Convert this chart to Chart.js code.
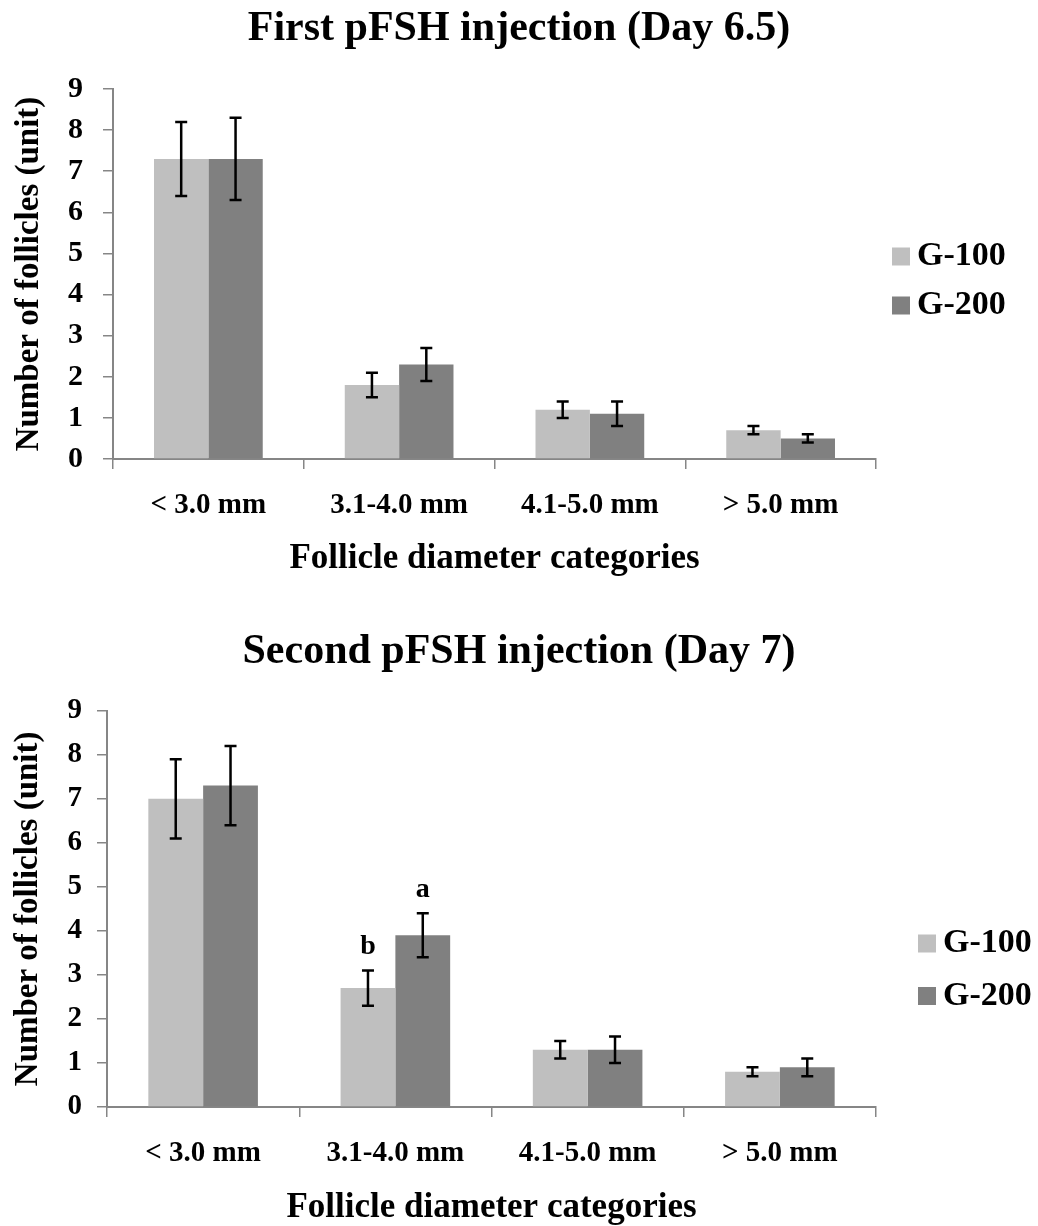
<!DOCTYPE html>
<html>
<head>
<meta charset="utf-8">
<script src="https://cdn.jsdelivr.net/npm/chart.js@4.4.1/dist/chart.umd.min.js"></script>
<style>
  html, body { margin: 0; padding: 0; background: #fff; overflow: hidden; }
  #wrap { position: relative; width: 1038px; height: 1226px; }
  canvas { position: absolute; left: 0; }
</style>
</head>
<body>
<div id="wrap">
  <canvas id="chartFirst" width="1038" height="600" style="top:0"></canvas>
  <canvas id="chartSecond" width="1038" height="626" style="top:600px"></canvas>
</div>
<script>
const categories = ["< 3.0 mm", "3.1-4.0 mm", "4.1-5.0 mm", "> 5.0 mm"];
const groups = ["G-100", "G-200"];
const yMax = 9;

// first injection (day 6.5)
const firstG100 = [7.3, 1.8, 1.2, 0.7];
const firstG200 = [7.3, 2.3, 1.1, 0.5];
const firstErrG100 = [0.9, 0.3, 0.2, 0.1];
const firstErrG200 = [1.0, 0.4, 0.3, 0.1];

// second injection (day 7)
const secondG100 = [7.0, 2.7, 1.3, 0.8];
const secondG200 = [7.3, 3.9, 1.3, 0.9];
const secondErrG100 = [0.9, 0.4, 0.2, 0.1];
const secondErrG200 = [0.9, 0.5, 0.3, 0.2];
const secondLetterG100 = ["", "b", "", ""];
const secondLetterG200 = ["", "a", "", ""];

const serif = "'Liberation Serif', 'Times New Roman', serif";
const axisGrey = "#868686";
const colors = ["#bfbfbf", "#808080"];

Chart.defaults.font.family = serif;
Chart.defaults.font.weight = "bold";
Chart.defaults.color = "#000";

// error bars + significance letters
const errorBars = {
  id: "errorBars",
  afterDatasetsDraw(chart) {
    const ctx = chart.ctx;
    const y = chart.scales.y;
    ctx.save();
    ctx.strokeStyle = "#000";
    ctx.lineWidth = 2.5;
    chart.data.datasets.forEach((ds, i) => {
      chart.getDatasetMeta(i).data.forEach((bar, j) => {
        const v = ds.data[j], e = ds.errors[j];
        const top = y.getPixelForValue(v + e);
        const bot = y.getPixelForValue(v - e);
        ctx.beginPath();
        ctx.moveTo(bar.x, top); ctx.lineTo(bar.x, bot);
        ctx.moveTo(bar.x - 6, top); ctx.lineTo(bar.x + 6, top);
        ctx.moveTo(bar.x - 6, bot); ctx.lineTo(bar.x + 6, bot);
        ctx.stroke();
        if (ds.letters && ds.letters[j]) {
          ctx.fillStyle = "#000";
          ctx.font = "bold 28px " + serif;
          ctx.textAlign = "center";
          ctx.textBaseline = "alphabetic";
          ctx.fillText(ds.letters[j], bar.x, top - 16);
        }
      });
    });
    ctx.restore();
  }
};

// title centred on the whole canvas (the plot itself sits left of the legend)
const pageTitle = {
  id: "pageTitle",
  afterDraw(chart, args, opts) {
    const ctx = chart.ctx;
    ctx.save();
    ctx.font = "bold 42px " + serif;
    ctx.fillStyle = "#000";
    ctx.textAlign = "center";
    ctx.textBaseline = "middle";
    ctx.fillText(opts.text, chart.width / 2, opts.y);
    ctx.restore();
  }
};

// legend on the right, like the original
const sideLegend = {
  id: "sideLegend",
  afterDraw(chart, args, opts) {
    const ctx = chart.ctx;
    const x = chart.chartArea.right + opts.dx;
    ctx.save();
    ctx.font = "bold 34px " + serif;
    ctx.textBaseline = "middle";
    ctx.textAlign = "left";
    chart.data.datasets.forEach((ds, i) => {
      const cy = opts.y + i * opts.gap;
      ctx.fillStyle = ds.backgroundColor;
      ctx.fillRect(x, cy - 9, 18, 18);
      ctx.fillStyle = "#000";
      ctx.fillText(ds.label, x + 25, cy);
    });
    ctx.restore();
  }
};

function makeChart(id, o) {
  return new Chart(document.getElementById(id), {
    type: "bar",
    data: {
      labels: categories,
      datasets: [
        { label: groups[0], data: o.g100, errors: o.err100, letters: o.let100, backgroundColor: colors[0] },
        { label: groups[1], data: o.g200, errors: o.err200, letters: o.let200, backgroundColor: colors[1] }
      ]
    },
    options: {
      responsive: false,
      animation: false,
      categoryPercentage: 0.57,
      barPercentage: 1.0,
      layout: { padding: { left: 0, right: 1038 - 876, top: o.plotTop, bottom: 0 } },
      plugins: {
        legend: { display: false },
        tooltip: { enabled: false },
        title: { display: false },
        pageTitle: { text: o.title, y: o.titleY },
        sideLegend: o.legend
      },
      scales: {
        x: {
          grid: { display: true, drawOnChartArea: false, drawTicks: true, tickLength: 10, offset: true, color: axisGrey, lineWidth: 1.5 },
          border: { display: true, color: axisGrey, width: 2 },
          ticks: { font: { size: 29, weight: "bold" }, color: "#000", padding: 19, maxRotation: 0 },
          title: {
            display: true,
            text: "Follicle diameter categories",
            font: { size: 35, weight: "bold", lineHeight: 1 },
            color: "#000",
            padding: { top: 0, bottom: o.xTitleBottom }
          },
          afterFit(scale) { scale.height = o.xHeight; }
        },
        y: {
          min: 0,
          max: yMax,
          grid: { display: true, drawOnChartArea: false, drawTicks: true, tickLength: 10, color: axisGrey, lineWidth: 1.5 },
          border: { display: true, color: axisGrey, width: 2 },
          ticks: { stepSize: 1, font: { size: o.yTickSize, weight: "bold" }, color: "#000", padding: o.yTickPad },
          title: {
            display: true,
            text: "Number of follicles (unit)",
            font: { size: 33, weight: "bold" },
            color: "#000",
            padding: { top: o.yTitleTop, bottom: 0 }
          },
          afterFit(scale) { scale.width = o.yWidth; }
        }
      }
    },
    plugins: [errorBars, pageTitle, sideLegend]
  });
}

makeChart("chartFirst", {
  title: "First pFSH injection (Day 6.5)",
  g100: firstG100, g200: firstG200,
  err100: firstErrG100, err200: firstErrG200,
  let100: null, let200: null,
  titleY: 29, plotTop: 89,
  xHeight: 141, xTitleBottom: 24,
  yWidth: 113, yTickSize: 30, yTickPad: 20, yTitleTop: 9.7,
  legend: { dx: 16, y: 256.5, gap: 49 }
});

makeChart("chartSecond", {
  title: "Second pFSH injection (Day 7)",
  g100: secondG100, g200: secondG200,
  err100: secondErrG100, err200: secondErrG200,
  let100: secondLetterG100, let200: secondLetterG200,
  titleY: 52.5, plotTop: 110.7,
  xHeight: 119, xTitleBottom: 1,
  yWidth: 107, yTickSize: 29, yTickPad: 15, yTitleTop: 8.7,
  legend: { dx: 42, y: 343.5, gap: 52.5 }
});
</script>
</body>
</html>
